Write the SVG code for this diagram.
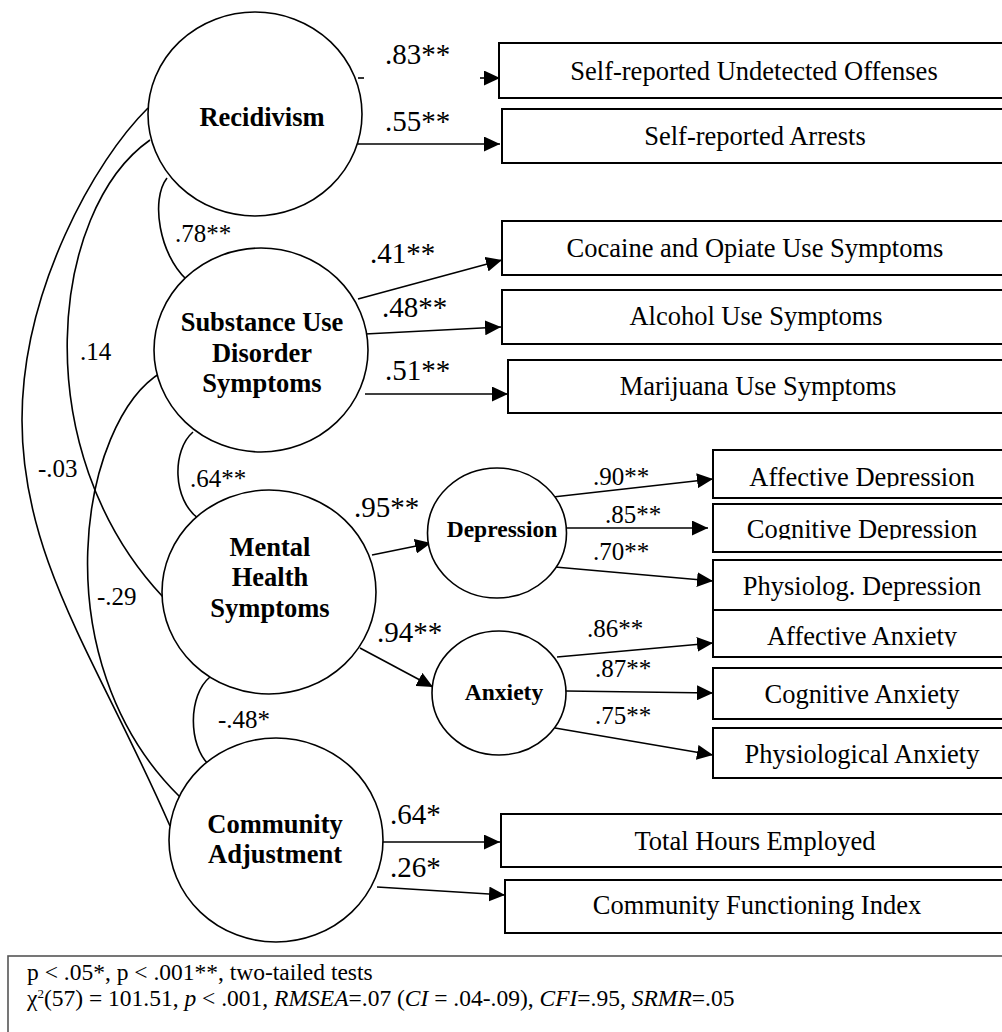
<svg xmlns="http://www.w3.org/2000/svg" width="1002" height="1032" viewBox="0 0 1002 1032">
<style>
.c{fill:#fff;stroke:#000;stroke-width:1.6}
.b{fill:#fff;stroke:#000;stroke-width:2}
.l{fill:none;stroke:#000;stroke-width:1.6}
.a{fill:none;stroke:#000;stroke-width:1.6;marker-end:url(#ah)}
.t{font-family:"Liberation Serif","Times New Roman",serif;fill:#000}
.nb{font-size:26.5px;font-weight:bold;text-anchor:middle}
.sb{font-size:23.5px;font-weight:bold;text-anchor:middle}
.bx{font-size:26.5px;text-anchor:middle}
.k{font-size:29px}
.s{font-size:25px}
.n{font-size:23.5px}
</style>
<defs>
<marker id="ah" markerUnits="userSpaceOnUse" markerWidth="16" markerHeight="15" refX="15" refY="7" orient="auto" viewBox="0 0 15 14"><path d="M0,0 L15,7 L0,14 z" fill="#000"/></marker>
<clipPath id="cp1"><rect x="700" y="440" width="320" height="47.5"/></clipPath>
<clipPath id="cp2"><rect x="700" y="500" width="320" height="39.5"/></clipPath>
<clipPath id="cp3"><rect x="700" y="612" width="320" height="34.5"/></clipPath>
</defs>
<rect width="1002" height="1032" fill="#fff"/>

<g id="connectors">
<path class="l" d="M148,108 C95,160 22,290 22,420 C22,560 98,661 170,826"/>
<path class="l" d="M150,140 C50,210 25,450 163,597"/>
<path class="l" d="M162,372 C80,420 40,660 180,797"/>
<path class="l" d="M167,178 C150,200 160,255 186,279"/>
<path class="l" d="M193,432 C172,450 172,500 199,519"/>
<path class="l" d="M210,677 C188,695 188,745 209,765"/>
<path class="l" d="M358,78 L364,78"/>
<path class="a" d="M480,78 L500,78"/>
<path class="a" d="M358,144 L500,144"/>
<path class="a" d="M358,299 L502,260"/>
<path class="a" d="M365,334 L501,327"/>
<path class="a" d="M365,394 L508,394"/>
<path class="a" d="M372,555 L431,543"/>
<path class="a" d="M360,648 L433,687"/>
<path class="a" d="M553,497 L713,479"/>
<path class="a" d="M566,528 L708,528"/>
<path class="a" d="M555,567 L713,581"/>
<path class="a" d="M557,657 L713,643"/>
<path class="a" d="M566,691 L713,693"/>
<path class="a" d="M555,728 L713,755"/>
<path class="a" d="M382,842 L500,842"/>
<path class="a" d="M377,887 L505,895"/>
</g>

<g id="labels" class="t">
<text class="k" x="385" y="64">.83**</text>
<text class="k" x="385" y="131">.55**</text>
<text class="k" x="370" y="263">.41**</text>
<text class="k" x="382" y="317">.48**</text>
<text class="k" x="385" y="380">.51**</text>
<text class="k" x="354" y="517">.95**</text>
<text class="k" x="377" y="642">.94**</text>
<text class="k" x="390" y="824">.64*</text>
<text class="k" x="390" y="877">.26*</text>
<text class="s" x="175" y="242">.78**</text>
<text class="s" x="190" y="487">.64**</text>
<text class="s" x="218" y="728">-.48*</text>
<text class="s" x="80" y="360">.14</text>
<text class="s" x="38" y="477">-.03</text>
<text class="s" x="97" y="605">-.29</text>
<text class="s" x="593" y="485">.90**</text>
<text class="s" x="605" y="523">.85**</text>
<text class="s" x="593" y="560">.70**</text>
<text class="s" x="587" y="637">.86**</text>
<text class="s" x="595" y="677">.87**</text>
<text class="s" x="595" y="724">.75**</text>
</g>

<g id="recidivism"><ellipse class="c" cx="255" cy="114" rx="107" ry="102"/><text class="t nb" x="262" y="126">Recidivism</text></g>
<g id="substance"><ellipse class="c" cx="261" cy="350" rx="107" ry="102"/><text class="t nb" x="262" y="331">Substance Use</text><text class="t nb" x="262" y="362">Disorder</text><text class="t nb" x="262" y="392">Symptoms</text></g>
<g id="mental"><ellipse class="c" cx="269" cy="592" rx="107" ry="102"/><text class="t nb" x="270" y="556">Mental</text><text class="t nb" x="270" y="586">Health</text><text class="t nb" x="270" y="617">Symptoms</text></g>
<g id="community"><ellipse class="c" cx="276" cy="840" rx="107" ry="102"/><text class="t nb" x="275" y="833">Community</text><text class="t nb" x="275" y="863">Adjustment</text></g>
<g id="depression"><ellipse class="c" cx="497" cy="533" rx="69.5" ry="65"/><text class="t sb" x="502" y="537">Depression</text></g>
<g id="anxiety"><ellipse class="c" cx="499" cy="693" rx="67" ry="62"/><text class="t sb" x="504" y="700">Anxiety</text></g>

<g id="box-offenses"><rect class="b" x="499" y="43" width="520" height="55"/><text class="t bx" x="754" y="80">Self-reported Undetected Offenses</text></g>
<g id="box-arrests"><rect class="b" x="502" y="109" width="520" height="54"/><text class="t bx" x="755" y="145">Self-reported Arrests</text></g>
<g id="box-cocaine"><rect class="b" x="502" y="221" width="520" height="54"/><text class="t bx" x="755" y="257">Cocaine and Opiate Use Symptoms</text></g>
<g id="box-alcohol"><rect class="b" x="502" y="290" width="520" height="54"/><text class="t bx" x="756" y="325">Alcohol Use Symptoms</text></g>
<g id="box-marijuana"><rect class="b" x="508" y="360" width="520" height="53"/><text class="t bx" x="758" y="395">Marijuana Use Symptoms</text></g>
<g id="box-affdep"><rect class="b" x="713" y="450" width="320" height="48"/><text class="t bx" x="862" y="486" clip-path="url(#cp1)">Affective Depression</text></g>
<g id="box-cogdep"><rect class="b" x="713" y="504" width="320" height="48"/><text class="t bx" x="862" y="538" clip-path="url(#cp2)">Cognitive Depression</text></g>
<g id="box-phydep"><rect class="b" x="713" y="560" width="320" height="50"/><text class="t bx" x="862" y="595">Physiolog. Depression</text></g>
<g id="box-affanx"><rect class="b" x="713" y="610" width="320" height="47"/><text class="t bx" x="862" y="645" clip-path="url(#cp3)">Affective Anxiety</text></g>
<g id="box-coganx"><rect class="b" x="713" y="668" width="320" height="51"/><text class="t bx" x="862" y="703">Cognitive Anxiety</text></g>
<g id="box-phyanx"><rect class="b" x="713" y="728" width="320" height="50"/><text class="t bx" x="862" y="763">Physiological Anxiety</text></g>
<g id="box-hours"><rect class="b" x="501" y="814" width="520" height="53"/><text class="t bx" x="755" y="850">Total Hours Employed</text></g>
<g id="box-cfi"><rect class="b" x="505" y="880" width="520" height="53"/><text class="t bx" x="757" y="914">Community Functioning Index</text></g>

<g id="note">
<rect x="8" y="956" width="1100" height="200" fill="#fff" stroke="#555" stroke-width="1.6"/>
<text class="t n" x="27" y="980">p &lt; .05*, p &lt; .001**, two-tailed tests</text>
<text class="t n" x="27" y="1006">χ<tspan font-size="13" dy="-8">2</tspan><tspan dy="8">(57) = 101.51, </tspan><tspan font-style="italic">p</tspan> &lt; .001, <tspan font-style="italic">RMSEA</tspan>=.07 (<tspan font-style="italic">CI</tspan> = .04-.09), <tspan font-style="italic">CFI</tspan>=.95, <tspan font-style="italic">SRMR</tspan>=.05</text>
</g>
</svg>
